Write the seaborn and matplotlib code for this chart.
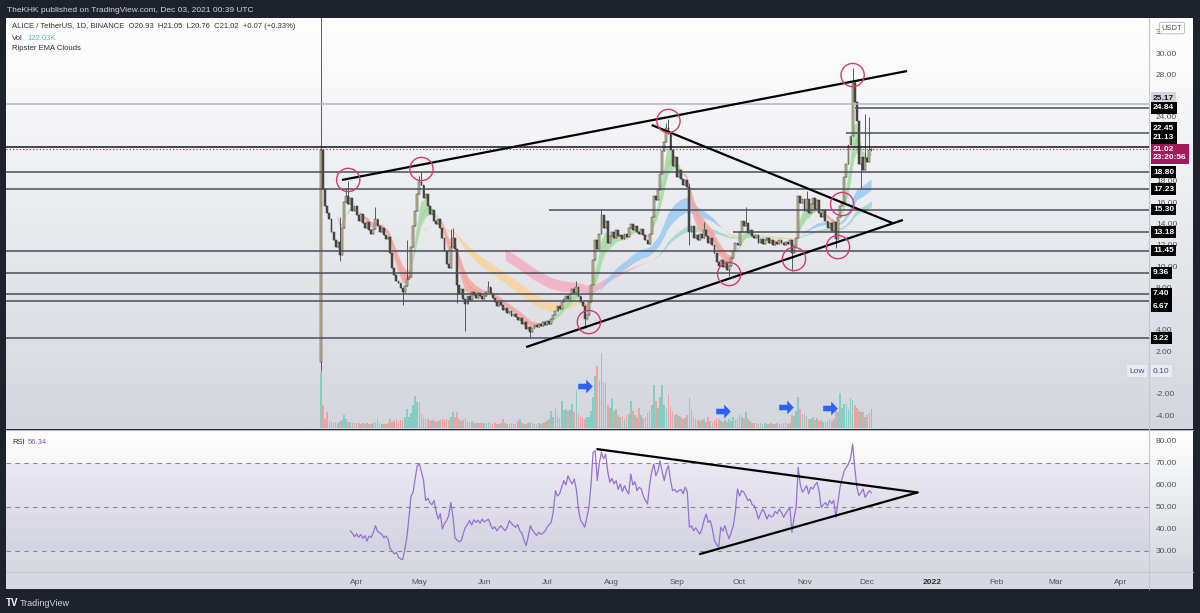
import numpy as np
import pandas as pd
import matplotlib
matplotlib.use('Agg')
import matplotlib.pyplot as plt
import matplotlib.transforms as mtransforms
from matplotlib.lines import Line2D
from matplotlib.patches import Rectangle
from matplotlib.path import Path
import seaborn as sns

sns.set_style('white')
plt.rcParams['font.family'] = ['Liberation Sans', 'DejaVu Sans']

# ---------------- data ----------------
start = pd.Timestamp('2021-03-15')
first_open = 1.0

# daily closes (USDT)
close_mar = [20.9, 17.2, 15.6, 15.0, 14.4, 13.2, 12.4, 11.8, 12.3, 11.0, 13.6, 16.0, 16.6, 15.8, 16.4, 15.2, 15.6]
close_apr = [14.8, 14.2, 14.9, 14.0, 13.6, 14.1, 13.4, 13.0, 13.5, 14.4, 13.8, 13.2, 13.6, 12.9, 12.5,
             12.7, 11.2, 9.8, 9.2, 8.6, 8.4, 7.9, 7.6, 8.1, 8.8, 9.0, 11.8, 13.8, 15.2, 16.8]
close_may = [17.9, 17.6, 16.4, 16.8, 15.6, 14.9, 15.3, 14.2, 13.9, 14.4, 13.6, 12.6, 11.4, 10.2, 9.8, 11.8,
             12.6, 11.6, 8.2, 7.4, 7.8, 6.9, 6.4, 7.2, 6.8, 7.6, 7.3, 7.0, 7.5, 7.2, 6.9]
close_jun = [7.2, 7.6, 8.0, 7.4, 7.0, 6.6, 6.2, 6.6, 6.3, 5.9, 6.1, 5.6, 5.8, 5.3, 5.5,
             5.2, 4.9, 5.1, 4.6, 4.7, 4.1, 4.3, 3.8, 4.2, 4.5, 4.3, 4.6, 4.4, 4.7, 4.5]
close_jul = [4.8, 4.6, 5.0, 5.4, 5.8, 6.2, 6.0, 6.6, 6.9, 7.2, 6.9, 7.4, 7.8, 7.5, 8.0, 7.2,
             6.6, 6.2, 5.0, 5.4, 6.6, 8.2, 10.6, 12.4, 11.6, 13.0, 14.8, 13.6, 14.2, 12.2, 12.8]
close_aug = [13.2, 12.6, 13.4, 12.8, 12.9, 12.5, 13.0, 12.7, 13.6, 13.9, 13.4, 13.8, 13.2, 13.0, 13.5, 12.9,
             12.4, 12.1, 13.0, 14.6, 16.6, 16.2, 17.1, 18.6, 20.8, 21.6, 23.0, 22.4, 20.9, 19.4, 20.2]
close_sep = [18.4, 19.0, 18.2, 17.6, 18.1, 17.4, 13.2, 13.8, 12.6, 12.9, 12.4, 13.0, 12.6, 13.4, 12.8,
             12.2, 12.6, 12.0, 11.2, 10.4, 10.0, 10.6, 9.9, 10.4, 9.6, 10.0, 10.8, 11.4, 12.2, 12.0]
close_oct = [13.2, 14.2, 13.8, 14.0, 13.1, 13.4, 12.8, 12.6, 12.9, 12.2, 12.5, 12.1, 12.4, 12.6, 12.2, 12.4,
             12.0, 12.3, 12.1, 12.4, 12.2, 12.0, 12.3, 12.1, 12.4, 11.2, 11.9, 12.6, 16.6, 15.9, 16.3]
close_nov = [15.2, 16.3, 15.0, 15.8, 16.4, 15.4, 16.2, 15.0, 14.6, 15.3, 14.2, 13.6, 14.0, 13.3, 14.1,
             12.5, 14.6, 15.6, 16.0, 18.4, 19.6, 21.4, 22.2, 27.2, 25.4, 23.6, 19.6, 20.2, 19.0, 20.1]
close_dec = [19.8, 20.93, 21.02]

# notable wicks
high_wicks = {'2021-03-15': 40.0, '2021-03-24': 14.6, '2021-03-27': 17.3, '2021-03-28': 18.0,
              '2021-04-10': 15.5, '2021-04-25': 12.4, '2021-05-01': 18.5, '2021-05-02': 18.8,
              '2021-05-16': 13.5, '2021-05-17': 13.6, '2021-06-03': 8.6, '2021-07-15': 8.6,
              '2021-07-27': 15.4, '2021-08-27': 23.4, '2021-08-28': 23.8, '2021-09-07': 17.8,
              '2021-09-14': 14.1, '2021-10-04': 15.5, '2021-11-02': 17.0, '2021-11-24': 28.6,
              '2021-11-25': 27.4, '2021-11-30': 24.3, '2021-12-02': 24.0, '2021-12-03': 21.05}
low_wicks = {'2021-03-15': 0.10, '2021-03-24': 10.5, '2021-04-23': 6.3, '2021-05-19': 6.5,
             '2021-05-23': 3.9, '2021-06-23': 3.3, '2021-07-19': 4.2, '2021-09-07': 12.0,
             '2021-09-26': 9.1, '2021-10-26': 9.5, '2021-11-16': 11.7, '2021-11-28': 17.3,
             '2021-12-03': 20.76}

# daily volume (K)
vol_mar = [360, 147, 60, 100, 45, 38, 35, 40, 32, 42, 50, 85, 55, 40, 38, 32, 30]
vol_apr = [35, 30, 28, 32, 26, 30, 28, 27, 33, 38, 58, 30, 28, 26, 25,
           30, 55, 40, 45, 60, 38, 52, 48, 70, 122, 70, 95, 150, 207, 168]
vol_may = [165, 90, 70, 55, 60, 45, 48, 52, 40, 45, 50, 55, 60, 58, 50, 72,
           100, 70, 100, 60, 45, 50, 62, 40, 38, 42, 35, 33, 30, 35, 32]
vol_jun = [35, 30, 40, 32, 28, 30, 26, 25, 30, 60, 33, 28, 27, 30, 26,
           25, 42, 58, 30, 28, 26, 35, 38, 30, 27, 25, 30, 28, 33, 40]
vol_jul = [45, 60, 109, 70, 128, 80, 65, 175, 115, 120, 110, 118, 154, 100, 243, 90,
           70, 64, 60, 68, 70, 110, 198, 333, 397, 300, 480, 294, 288, 150, 128]
vol_aug = [192, 110, 120, 85, 70, 75, 60, 80, 90, 173, 110, 85, 70, 128, 80, 65,
           72, 95, 110, 150, 275, 170, 128, 200, 275, 150, 120, 210, 140, 100, 80]
vol_sep = [90, 75, 70, 60, 65, 80, 198, 120, 70, 55, 50, 45, 48, 60, 40,
           72, 45, 40, 50, 64, 55, 45, 40, 52, 38, 60, 45, 72, 50, 60]
vol_oct = [90, 70, 55, 100, 60, 45, 35, 32, 30, 28, 32, 27, 30, 25, 28, 33,
           26, 25, 30, 28, 26, 32, 30, 28, 35, 85, 75, 110, 200, 120, 90]
vol_nov = [90, 75, 60, 55, 70, 48, 62, 45, 52, 40, 38, 45, 60, 42, 55,
           128, 100, 224, 130, 154, 154, 120, 192, 180, 150, 128, 110, 100, 102, 70]
vol_dec = [80, 95, 122.03]

# RSI(14), first value on 2021-03-29
rsi_mar = [39.2, 38.0, 36.5]
rsi_apr = [37.8, 36.2, 37.5, 35.8, 37.0, 34.5, 36.8, 36.2, 38.4, 41.5, 39.0, 38.2, 37.6, 36.0, 36.8,
           35.5, 31.2, 30.0, 28.6, 29.4, 27.2, 26.4, 26.0, 30.5, 36.0, 45.0, 55.0, 56.7, 63.0, 68.8]
rsi_may = [69.5, 66.0, 62.0, 52.9, 54.0, 52.0, 51.0, 53.0, 48.0, 44.5, 47.0, 40.0, 42.5, 43.8, 46.0, 52.0,
           46.0, 36.0, 35.0, 34.2, 34.7, 38.0, 40.8, 42.0, 43.8, 41.8, 44.2, 43.0, 44.0, 42.6, 44.5]
rsi_jun = [43.2, 43.8, 44.5, 42.0, 40.0, 41.0, 39.2, 40.5, 41.5, 40.2, 39.2, 41.0, 43.8, 42.5, 41.6,
           40.8, 42.0, 39.2, 38.0, 35.0, 32.4, 36.5, 41.5, 39.5, 38.2, 37.0, 38.5, 37.6, 38.0, 39.0]
rsi_jul = [40.8, 42.0, 43.0, 48.0, 57.4, 55.0, 56.0, 59.0, 62.0, 60.0, 64.2, 62.0, 60.5, 62.7, 58.0, 49.0,
           44.0, 42.5, 40.8, 45.0, 49.8, 60.0, 74.8, 75.6, 62.0, 70.0, 74.8, 72.0, 74.0, 66.0, 61.2]
rsi_aug = [63.0, 60.5, 62.0, 58.0, 60.5, 57.0, 59.7, 57.5, 55.9, 65.0, 60.0, 61.5, 57.4, 59.0, 58.2, 55.0,
           53.0, 51.4, 60.0, 66.0, 69.5, 64.2, 66.5, 71.0, 66.0, 62.0, 66.5, 68.8, 62.0, 57.4, 58.0]
rsi_sep = [56.7, 57.5, 58.0, 56.0, 59.0, 57.0, 40.8, 41.5, 39.2, 40.5, 39.0, 37.7, 40.0, 44.0, 46.8,
           43.0, 43.8, 40.0, 34.7, 33.0, 31.7, 40.8, 39.0, 41.5, 38.0, 35.5, 38.5, 41.5, 48.0, 58.2]
rsi_oct = [55.0, 57.5, 56.7, 55.0, 52.9, 53.5, 51.0, 50.6, 48.0, 44.5, 47.0, 49.0, 47.5, 44.5, 46.5, 45.5,
           46.0, 48.0, 47.0, 49.0, 47.5, 45.3, 47.0, 48.5, 49.8, 38.5, 45.0, 50.0, 68.0, 60.0, 56.7]
rsi_nov = [58.0, 59.7, 56.0, 59.0, 58.2, 60.0, 61.2, 57.0, 49.8, 51.0, 52.0, 50.5, 53.0, 51.5, 53.0,
           45.3, 52.0, 59.0, 63.0, 66.5, 68.0, 69.5, 72.0, 78.6, 68.0, 59.0, 55.2, 56.5, 58.2, 54.4]
rsi_dec = [56.0, 57.4, 56.34]

# drawings
levels_full = [25.17, 21.13, 18.80, 17.23, 11.45, 9.36, 7.40, 6.67, 3.22]
levels_ray = [15.30, 13.18, 22.45, 24.84]
ray_from = ['2021-07-02', '2021-09-28', '2021-11-21', '2021-11-25']
last_price = 21.02

trend_dates = [('2021-03-25', '2021-12-20'), ('2021-08-20', '2021-12-13'), ('2021-06-21', '2021-12-18')]
trend_prices = [(18.08, 28.31), (23.24, 14.04), (2.39, 14.32)]
rsi_trend_dates = [('2021-07-25', '2021-12-25'), ('2021-09-12', '2021-12-25')]
rsi_trend_vals = [(76.3, 56.6), (28.6, 56.6)]

circle_dates = ['2021-03-28', '2021-05-02', '2021-08-28', '2021-11-24', '2021-07-21',
                '2021-09-26', '2021-10-27', '2021-11-17', '2021-11-19']
circle_prices = [18.08, 19.11, 23.62, 27.93, 4.74, 9.25, 10.66, 11.78, 15.82]
arrow_dates = ['2021-07-19', '2021-09-23', '2021-10-23', '2021-11-13']
arrow_prices = [-1.27, -3.62, -3.24, -3.33]

# price-axis ticks that are not hidden behind a tag
price_ticks = [-4, -2, 2, 4, 8, 10, 12, 14, 16, 18, 24, 28, 30, 32]
rsi_ticks = [30, 40, 50, 60, 70, 80]
month_ticks = ['2021-04-01', '2021-05-01', '2021-06-01', '2021-07-01', '2021-08-01', '2021-09-01',
               '2021-10-01', '2021-11-01', '2021-12-01', '2022-01-01', '2022-02-01', '2022-03-01',
               '2022-04-01']
month_labels = ['Apr', 'May', 'Jun', 'Jul', 'Aug', 'Sep', 'Oct', 'Nov', 'Dec', '2022', 'Feb', 'Mar', 'Apr']

# ---------------- assemble ----------------
def day(s):
    return (pd.Timestamp(s) - start).days

closes = np.array(close_mar + close_apr + close_may + close_jun + close_jul + close_aug
                  + close_sep + close_oct + close_nov + close_dec)
volume = np.array(vol_mar + vol_apr + vol_may + vol_jun + vol_jul + vol_aug
                  + vol_sep + vol_oct + vol_nov + vol_dec, dtype=float)
rsi = np.array(rsi_mar + rsi_apr + rsi_may + rsi_jun + rsi_jul + rsi_aug
               + rsi_sep + rsi_oct + rsi_nov + rsi_dec)
days = np.arange(len(closes))
rsi_days = days[len(days) - len(rsi):]
opens = np.r_[first_open, closes[:-1]]
highs = np.maximum(opens, closes)
lows = np.minimum(opens, closes)
for k, v in high_wicks.items():
    highs[day(k)] = v
for k, v in low_wicks.items():
    lows[day(k)] = v
up = closes >= opens


def ema(vals, n):
    out = np.full(len(vals), np.nan)
    out[n - 1] = vals[:n].mean()
    a = 2.0 / (n + 1)
    for i in range(n, len(vals)):
        out[i] = a * vals[i] + (1 - a) * out[i - 1]
    return out


# ---------------- figure ----------------
W, H = 1200, 613
fig = plt.figure(figsize=(W / 100, H / 100), dpi=100)
fig.patch.set_facecolor('#1e222d')


def frac(x0, y0, x1, y1):
    return [x0 / W, 1 - y1 / H, (x1 - x0) / W, (y1 - y0) / H]


def gradient_bg(box, top, bottom):
    a = fig.add_axes(frac(*box), zorder=0)
    c0 = np.array(matplotlib.colors.to_rgb(top))
    c1 = np.array(matplotlib.colors.to_rgb(bottom))
    t = np.linspace(0, 1, 200)[:, None, None]
    a.imshow(c0 * (1 - t) + c1 * t, aspect='auto', extent=(0, 1, 0, 1))
    a.axis('off')


gradient_bg((6, 18, 1193, 429), '#ffffff', '#d3d6dd')
gradient_bg((6, 430, 1193, 572), '#ffffff', '#d5d8df')
fig.add_artist(Rectangle((6 / W, 1 - 589 / H), 1187 / W, 17 / H, transform=fig.transFigure,
                         fc='#d6d9e0', ec='none', zorder=0))
for xs, ys, c in [((1149, 1149), (18, 589), '#c3c6cd'), ((6, 1193), (429.5, 429.5), '#b8bbc3'),
                  ((6, 1193), (572, 572), '#c3c6cd')]:
    fig.add_artist(Line2D([x / W for x in xs], [1 - y / H for y in ys], color=c, lw=0.8,
                          transform=fig.transFigure, zorder=3))

ax_vol = fig.add_axes(frac(6, 18, 1149, 428), zorder=1)
ax = fig.add_axes(frac(6, 18, 1149, 428), zorder=2)
ax_rsi = fig.add_axes(frac(6, 430, 1149, 572), zorder=2)
xlim = (-150.5, 395.6)
for a in (ax_vol, ax, ax_rsi):
    a.patch.set_visible(False)
    for s in a.spines.values():
        s.set_visible(False)
    a.set_xlim(*xlim)

# volume
ax_vol.bar(days, volume, width=0.8, color=np.where(up, '#86ccc2', '#f0a1a1'), lw=0)
ax_vol.set_ylim(0, 2620)
ax_vol.set_xlim(*xlim)
ax_vol.axis('off')

# EMA clouds
clouds = [(72, 89, '#a3d9cf', '#f4afc5'), (34, 50, '#9fcbf3', '#f8d3a0'),
          (5, 12, '#acdca8', '#f3aaa3'), (8, 9, '#9dd599', '#ef9f96')]
for i, (f, s, bull, bear) in enumerate(clouds):
    ef, es = ema(closes, f), ema(closes, s)
    ok = ~np.isnan(ef) & ~np.isnan(es)
    ax.fill_between(days, ef, es, where=ok & (ef >= es), color=bull, alpha=0.9, lw=0,
                    interpolate=True, zorder=2 + i * 0.1)
    ax.fill_between(days, ef, es, where=ok & (ef < es), color=bear, alpha=0.9, lw=0,
                    interpolate=True, zorder=2 + i * 0.1)

# horizontal levels
for lv in levels_full:
    col = '#b2b5be' if lv == 25.17 else ('#131722' if lv == 21.13 else '#4a4e59')
    ax.axhline(lv, color=col, lw=1.1, zorder=5)
for lv, d0 in zip(levels_ray, ray_from):
    ax.hlines(lv, day(d0), xlim[1], color='#4a4e59', lw=1.1, zorder=5)
ax.axhline(last_price, color='#a3195b', lw=0.8, ls=(0, (1, 2)), zorder=5)

# candles
ax.vlines(days, lows, highs, color='#5a5a5a', lw=0.7, zorder=4)
ax.bar(days, np.maximum(np.abs(closes - opens), 0.05), bottom=np.minimum(opens, closes), width=0.9,
       color=np.where(up, '#cbbd96', '#4a4a4a'), edgecolor='#3a3a3a', lw=0.35, zorder=4.5)

# trend lines, circles, arrows
for (d0, d1), (p0, p1) in zip(trend_dates, trend_prices):
    ax.plot([day(d0), day(d1)], [p0, p1], color='#000000', lw=1.6, zorder=6, solid_capstyle='butt')
ax.scatter([day(d) for d in circle_dates], circle_prices, s=280, facecolors='none',
           edgecolors='#d9386b', linewidths=1.0, zorder=7)
arrow = Path([(-1, -0.38), (0.1, -0.38), (0.1, -0.95), (1, 0), (0.1, 0.95), (0.1, 0.38),
              (-1, 0.38), (-1, -0.38)], closed=True)
ax.scatter([day(d) for d in arrow_dates], arrow_prices, marker=arrow, s=110, color='#2962ff',
           lw=0, zorder=7)

ax.set_ylim(-5.21, 33.29)
ax.yaxis.tick_right()
ax.set_yticks(price_ticks)
ax.set_yticklabels([f'{v:.2f}' for v in price_ticks])
ax.set_xticks([])
ax.tick_params(axis='y', length=0, pad=5, labelsize=6, labelcolor='#50535e')

# price tags on the axis
tf = mtransforms.blended_transform_factory(ax.transAxes, ax.transData)
nudge = {25.17: 0.6, 22.45: 0.5, 21.13: 0.9, 6.67: -0.43}
for lv in levels_full + levels_ray:
    fc, tc = ('#d1d4dc', '#131722') if lv == 25.17 else ('#000000', '#ffffff')
    ax.text(1.0035, lv + nudge.get(lv, 0), f'{lv:.2f}', transform=tf, ha='left', va='center',
            fontsize=6, fontweight='bold', color=tc, zorder=10, clip_on=False,
            bbox=dict(boxstyle='square,pad=0.28', fc=fc, ec='none'))
ax.text(1.0035, 20.55, f'{last_price:.2f}\n23:20:56', transform=tf, ha='left', va='center',
        fontsize=6, fontweight='bold', color='#ffffff', linespacing=1.15, zorder=10, clip_on=False,
        bbox=dict(boxstyle='square,pad=0.3', fc='#a3195b', ec='none'))
ax.text(1.0035, 0.10, '0.10', transform=tf, ha='left', va='center', fontsize=6, color='#50535e',
        zorder=10, clip_on=False, bbox=dict(boxstyle='square,pad=0.3', fc='#e4edf9', ec='none'))
ax.text(0.996, 0.10, 'Low', transform=tf, ha='right', va='center', fontsize=6, color='#50535e',
        zorder=10, clip_on=False, bbox=dict(boxstyle='square,pad=0.3', fc='#e4edf9', ec='none'))
fig.text(1172 / W, 1 - 28 / H, 'USDT', fontsize=5.5, color='#50535e', ha='center', va='center',
         bbox=dict(boxstyle='round,pad=0.3', fc='#ffffff', ec='#b2b5be', lw=0.6), zorder=5)

# RSI pane
ax_rsi.axhspan(30, 70, color='#7e57c2', alpha=0.08, lw=0)
for lv in (70, 50, 30):
    ax_rsi.axhline(lv, color='#868993', lw=0.8, ls=(0, (4, 4)))
sns.lineplot(x=rsi_days, y=rsi, ax=ax_rsi, color='#9272d6', linewidth=0.9)
for (d0, d1), (r0, r1) in zip(rsi_trend_dates, rsi_trend_vals):
    ax_rsi.plot([day(d0), day(d1)], [r0, r1], color='#000000', lw=1.6, zorder=6)
ax_rsi.set_xlim(*xlim)
ax_rsi.set_ylim(20.45, 85.0)
ax_rsi.yaxis.tick_right()
ax_rsi.set_yticks(rsi_ticks)
ax_rsi.set_yticklabels([f'{v:.2f}' for v in rsi_ticks])
ax_rsi.set_xticks([day(m) for m in month_ticks])
ax_rsi.set_xticklabels(month_labels)
ax_rsi.tick_params(axis='both', length=0, labelsize=6, labelcolor='#50535e')
ax_rsi.tick_params(axis='y', pad=5)
ax_rsi.tick_params(axis='x', pad=5)
for t in ax_rsi.get_xticklabels():
    if t.get_text() == '2022':
        t.set_fontweight('bold')
        t.set_color('#2a2e39')
ax_rsi.set_xlabel('')
ax_rsi.set_ylabel('')

# legends / header / footer
def px_text(x, y, s, **kw):
    fig.text(x / W, 1 - y / H, s, va='center', ha='left', **kw)


px_text(7, 10, 'TheKHK published on TradingView.com, Dec 03, 2021 00:39 UTC', fontsize=6, color='#d1d4dc')
px_text(12, 27, 'ALICE / TetherUS, 1D, BINANCE  O20.93  H21.05  L20.76  C21.02  +0.07 (+0.33%)',
        fontsize=5.5, color='#2a2e39')
px_text(12, 38, 'Vol', fontsize=5.5, color='#2a2e39')
px_text(27, 38, '122.03K', fontsize=5.5, color='#4fb8ac')
px_text(12, 49, 'Ripster EMA Clouds', fontsize=5.5, color='#2a2e39')
px_text(12, 443, 'RSI', fontsize=5.5, color='#2a2e39')
px_text(28, 443, '56.34', fontsize=5.5, color='#7e57c2')
px_text(6, 603, 'TV', fontsize=7, color='#ffffff', fontweight='bold')
px_text(20, 603, 'TradingView', fontsize=6.5, color='#d1d4dc')

fig.savefig('out.png', dpi=100, facecolor=fig.get_facecolor())
